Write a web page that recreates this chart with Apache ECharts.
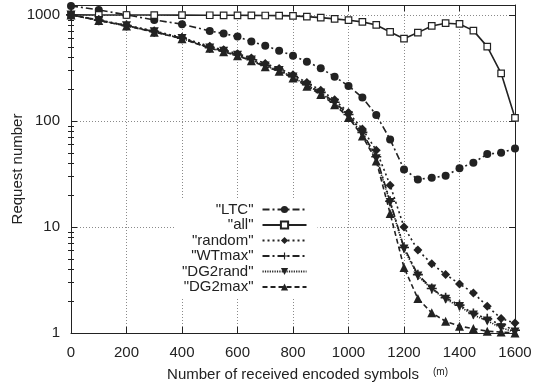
<!DOCTYPE html>
<html>
<head>
<meta charset="utf-8">
<script src="https://cdn.jsdelivr.net/npm/echarts@6/dist/echarts.min.js"></script>
<style>html,body{margin:0;padding:0;background:#fff;}#c{width:539px;height:383px;}</style>
</head>
<body>
<div id="c"></div>
<script>
const xValues = [0,100,200,300,400,500,550,600,650,700,750,800,850,900,950,1000,1050,1100,1150,1200,1250,1300,1350,1400,1450,1500,1550,1600];
const ltc = [1216,1115,1000,897,817,706,666,624,560,513,460,413,362,314,261,214,166,114,67,34.9,28.1,29.1,30.4,35.7,40.3,48.7,50,55];
const allS = [1000,999,998,997,995,993,992,991,989,987,985,979,964,943,917,891,859,804,691,597,681,787,835,822,711,502,281,107];
const randomS = [1000,895,800,705,612,505,468,430,392,348,312,272,230,195,158,120,84,53,24.8,10,6.05,4.5,3.57,2.9,2.39,1.79,1.37,1.24];
const wtmax = [1000,890,793,695,603,491,457,419,378,333,302,262,220,186,150,115,78,46,17.5,6.4,3.55,2.63,2.15,1.83,1.53,1.36,1.2,1.06];
const dg2rand = [1000,888,790,692,600,488,454,416,375,330,299,259,217,183,147,112,75,44,17,6.2,3.45,2.6,2.08,1.78,1.48,1.3,1.12,1.02];
const dg2max = [1000,885,787,688,596,484,450,411,370,325,294,254,212,178,142,108,72,42,13.4,4.14,2.11,1.55,1.29,1.16,1.1,1.04,1.02,1.0];
const seriesNames = ['"LTC"','"all"','"random"','"WTmax"','"DG2rand"','"DG2max"'];
const majorTicks = [1,10,100,1000];
const minorTicks = [2,3,4,5,6,7,8,9,20,30,40,50,60,70,80,90,200,300,400,500,600,700,800,900];

const ink = '#222';
const pair = arr => xValues.map((x,i)=>[x, arr[i]]);
const plusPath = 'path://M4.2,0H5.8V4.2H10V5.8H5.8V10H4.2V5.8H0V4.2H4.2Z';

function mk(name, data, symbol, size, dash, extra) {
  return Object.assign({
    name, type:'line', data: pair(data), symbol, symbolSize:size,
    xAxisIndex:0, yAxisIndex:0,
    lineStyle:{color:ink, width:1.6, type:dash},
    itemStyle:{color:ink},
    animation:false, z:3
  }, extra||{});
}

const logAxisBase = {type:'log', logBase:10, min:1, max:1240};
function minorAxis(pos){
  return Object.assign({}, logAxisBase, {
    position:pos, axisLine:{show:false}, axisLabel:{show:false}, splitLine:{show:false},
    axisTick:{show:true, inside:true, length:3, customValues:minorTicks, lineStyle:{color:ink}}
  });
}

const chart = echarts.init(document.getElementById('c'), null, {renderer:'canvas'});
chart.setOption({
  backgroundColor:'#fff',
  animation:false,
  grid:{left:71, right:24, top:5, bottom:50, containLabel:false, outerBoundsMode:'none'},
  xAxis:[
    {type:'value', min:0, max:1600, interval:200, position:'bottom',
     axisLine:{show:true, onZero:false, lineStyle:{color:ink}},
     axisTick:{show:true, inside:true, length:6, lineStyle:{color:ink}},
     axisLabel:{fontSize:15, color:ink, margin:12, fontFamily:'Liberation Sans', formatter:v=>String(v)},
     splitLine:{show:true, lineStyle:{color:'#8a8a8a', type:[1,2], width:1}},
     name:'Number of received encoded symbols', nameLocation:'middle', nameGap:34, nameMoveOverlap:false,
     nameTextStyle:{fontSize:15, color:ink, fontFamily:'Liberation Sans'}},
    {type:'value', min:0, max:1600, interval:200, position:'top',
     axisLine:{show:true, onZero:false, lineStyle:{color:ink}},
     axisTick:{show:true, inside:true, length:6, lineStyle:{color:ink}},
     axisLabel:{show:false}, splitLine:{show:false}}
  ],
  yAxis:[
    Object.assign({}, logAxisBase, {
      position:'left',
      axisLine:{show:true, onZero:false, lineStyle:{color:ink}},
      axisTick:{show:true, inside:true, length:6, customValues:majorTicks, lineStyle:{color:ink}},
      axisLabel:{fontSize:15, color:ink, margin:11, fontFamily:'Liberation Sans', customValues:majorTicks,
        formatter:v=>{const r=Math.round(v); return majorTicks.some(m=>Math.abs(m-v)<1e-6*m)?String(r):'';}},
      splitLine:{show:true, lineStyle:{color:'#8a8a8a', type:[1,2], width:1}},
      name:'Request number', nameLocation:'middle', nameGap:46, nameMoveOverlap:false,
      nameTextStyle:{fontSize:15, color:ink, fontFamily:'Liberation Sans'}
    }),
    minorAxis('left'),
    Object.assign({}, logAxisBase, {
      position:'right',
      axisLine:{show:true, onZero:false, lineStyle:{color:ink}},
      axisTick:{show:true, inside:true, length:6, customValues:majorTicks, lineStyle:{color:ink}},
      axisLabel:{show:false}, splitLine:{show:false}
    }),
    minorAxis('right')
  ],
  legend:{
    orient:'vertical', left:176, top:200, align:'right',
    backgroundColor:'#fff', padding:[2,10,3,6],
    itemWidth:44, itemHeight:9, itemGap:0.5,
    textStyle:{fontSize:15, color:ink, fontFamily:'Liberation Sans', lineHeight:15, padding:[0,4,0,0]},
    data:seriesNames, z:6
  },
  graphic:[{type:'text', left:433, top:367, style:{text:'(m)', fontSize:10, fill:ink, fontFamily:'Liberation Sans'}}],
  series:[
    mk(seriesNames[0], ltc, 'circle', 8, [7,3,2,3]),
    mk(seriesNames[1], allS, 'rect', 6.5, 'solid', {itemStyle:{color:'#fff', borderColor:ink, borderWidth:1.2}}),
    mk(seriesNames[2], randomS, 'diamond', 9, [2,3]),
    mk(seriesNames[3], wtmax, plusPath, 10, [7,3,2,3]),
    mk(seriesNames[4], dg2rand, 'triangle', 9, [1.2,1.2], {symbolRotate:180}),
    mk(seriesNames[5], dg2max, 'triangle', 9, [5,3])
  ]
});
</script>
</body>
</html>
